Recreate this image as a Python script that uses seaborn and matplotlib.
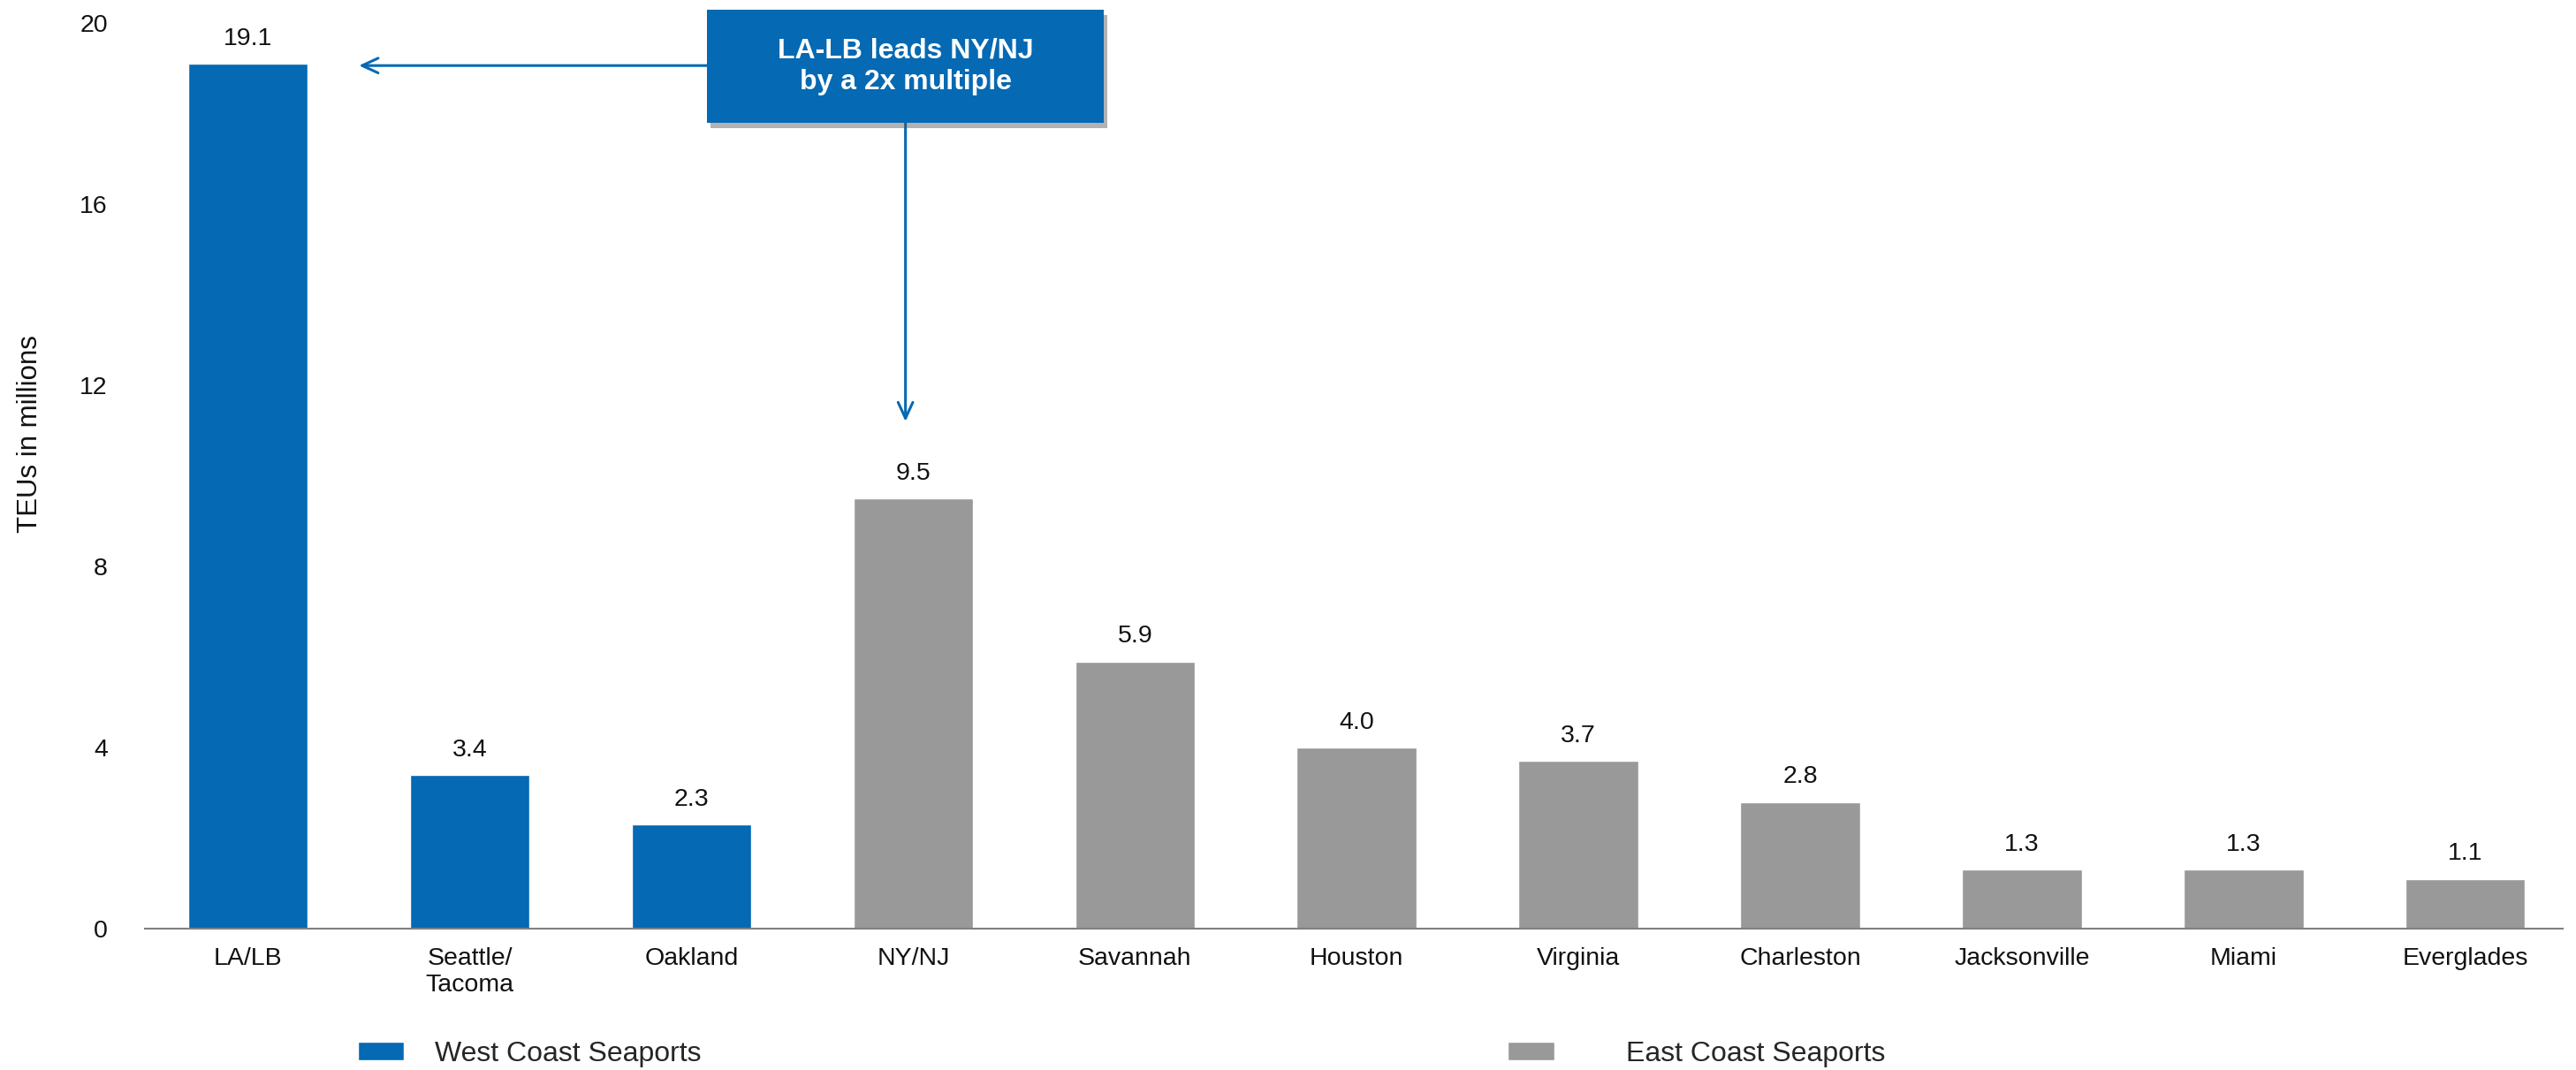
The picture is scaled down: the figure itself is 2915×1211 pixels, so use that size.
import matplotlib
matplotlib.use("Agg")
import matplotlib.pyplot as plt
import matplotlib.patheffects as pe
from matplotlib.patches import Patch, Rectangle
import pandas as pd
import seaborn as sns

ports = ["LA/LB", "Seattle/\nTacoma", "Oakland", "NY/NJ", "Savannah", "Houston",
         "Virginia", "Charleston", "Jacksonville", "Miami", "Everglades"]
teus = [19.1, 3.4, 2.3, 9.5, 5.9, 4.0, 3.7, 2.8, 1.3, 1.3, 1.1]
coast = ["West Coast Seaports"] * 3 + ["East Coast Seaports"] * 8
coast_order = ["West Coast Seaports", "East Coast Seaports"]
yticks = [0, 4, 8, 12, 16, 20]

BLUE = "#0569B3"
GRAY = "#999999"
palette = {"West Coast Seaports": BLUE, "East Coast Seaports": GRAY}


def main():
    df = pd.DataFrame({"port": ports, "teus": teus, "coast": coast})

    sns.set_style("white")
    plt.rcParams["font.family"] = ["Liberation Sans", "DejaVu Sans"]

    fig = plt.figure(figsize=(29.15, 12.11), dpi=100)
    ax = fig.add_axes([0.0561, 0.1321, 0.9388, 0.8464])

    sns.barplot(data=df, x="port", y="teus", hue="coast", hue_order=coast_order,
                palette=palette, dodge=False, width=0.54, saturation=1,
                legend=False, ax=ax)

    for cont in ax.containers:
        ax.bar_label(cont, fmt="%.1f", padding=11, fontsize=20.5, color="#111111")

    ax.set_xlim(-0.467, 10.44)
    ax.set_ylim(0, 20)
    ax.set_yticks(yticks)
    ax.set_xlabel("")
    ax.set_ylabel("TEUs in millions", fontsize=22.5, color="#111111")
    ax.yaxis.set_label_coords(-0.042, 0.546)
    ax.tick_params(axis="y", length=0, pad=30, labelsize=20.5, labelcolor="#111111")
    ax.tick_params(axis="x", length=0, pad=15, labelsize=20.5, labelcolor="#111111")

    for s in ["top", "right", "left"]:
        ax.spines[s].set_visible(False)
    ax.spines["bottom"].set_color("#808080")
    ax.spines["bottom"].set_linewidth(1.5)

    # callout box
    box = Rectangle((2.07, 17.79), 1.79, 2.5, facecolor=BLUE, edgecolor="none",
                    clip_on=False, zorder=5,
                    path_effects=[pe.SimplePatchShadow(offset=(3, -4), shadow_rgbFace="#555555",
                                                       alpha=0.45),
                                  pe.Normal()])
    ax.add_patch(box)
    ax.text(2.965, 19.04, "LA-LB leads NY/NJ\nby a 2x multiple", ha="center",
            va="center", color="white", fontsize=23, fontweight="bold",
            linespacing=1.25, zorder=6, clip_on=False)

    arrow = dict(arrowstyle="->,head_length=1.3,head_width=0.6", color=BLUE, lw=2.2,
                 shrinkA=0, shrinkB=0)
    ax.annotate("", xy=(0.5, 19.06), xytext=(2.07, 19.06), arrowprops=arrow, zorder=4)
    ax.annotate("", xy=(2.965, 11.2), xytext=(2.965, 17.79), arrowprops=arrow, zorder=4)

    # legend (two separate entries, spaced like the original)
    for label, xpos, gap in [("West Coast Seaports", 0.1388, 1.1),
                             ("East Coast Seaports", 0.5853, 2.55)]:
        fig.legend(handles=[Patch(facecolor=palette[label], label=label)],
                   loc="center left", bbox_to_anchor=(xpos, 0.015), frameon=False,
                   fontsize=23, handlelength=1.65, handleheight=0.6,
                   handletextpad=gap, borderpad=0, borderaxespad=0)

    fig.savefig("out.png", dpi=100)
    plt.close(fig)


if __name__ == "__main__":
    main()
